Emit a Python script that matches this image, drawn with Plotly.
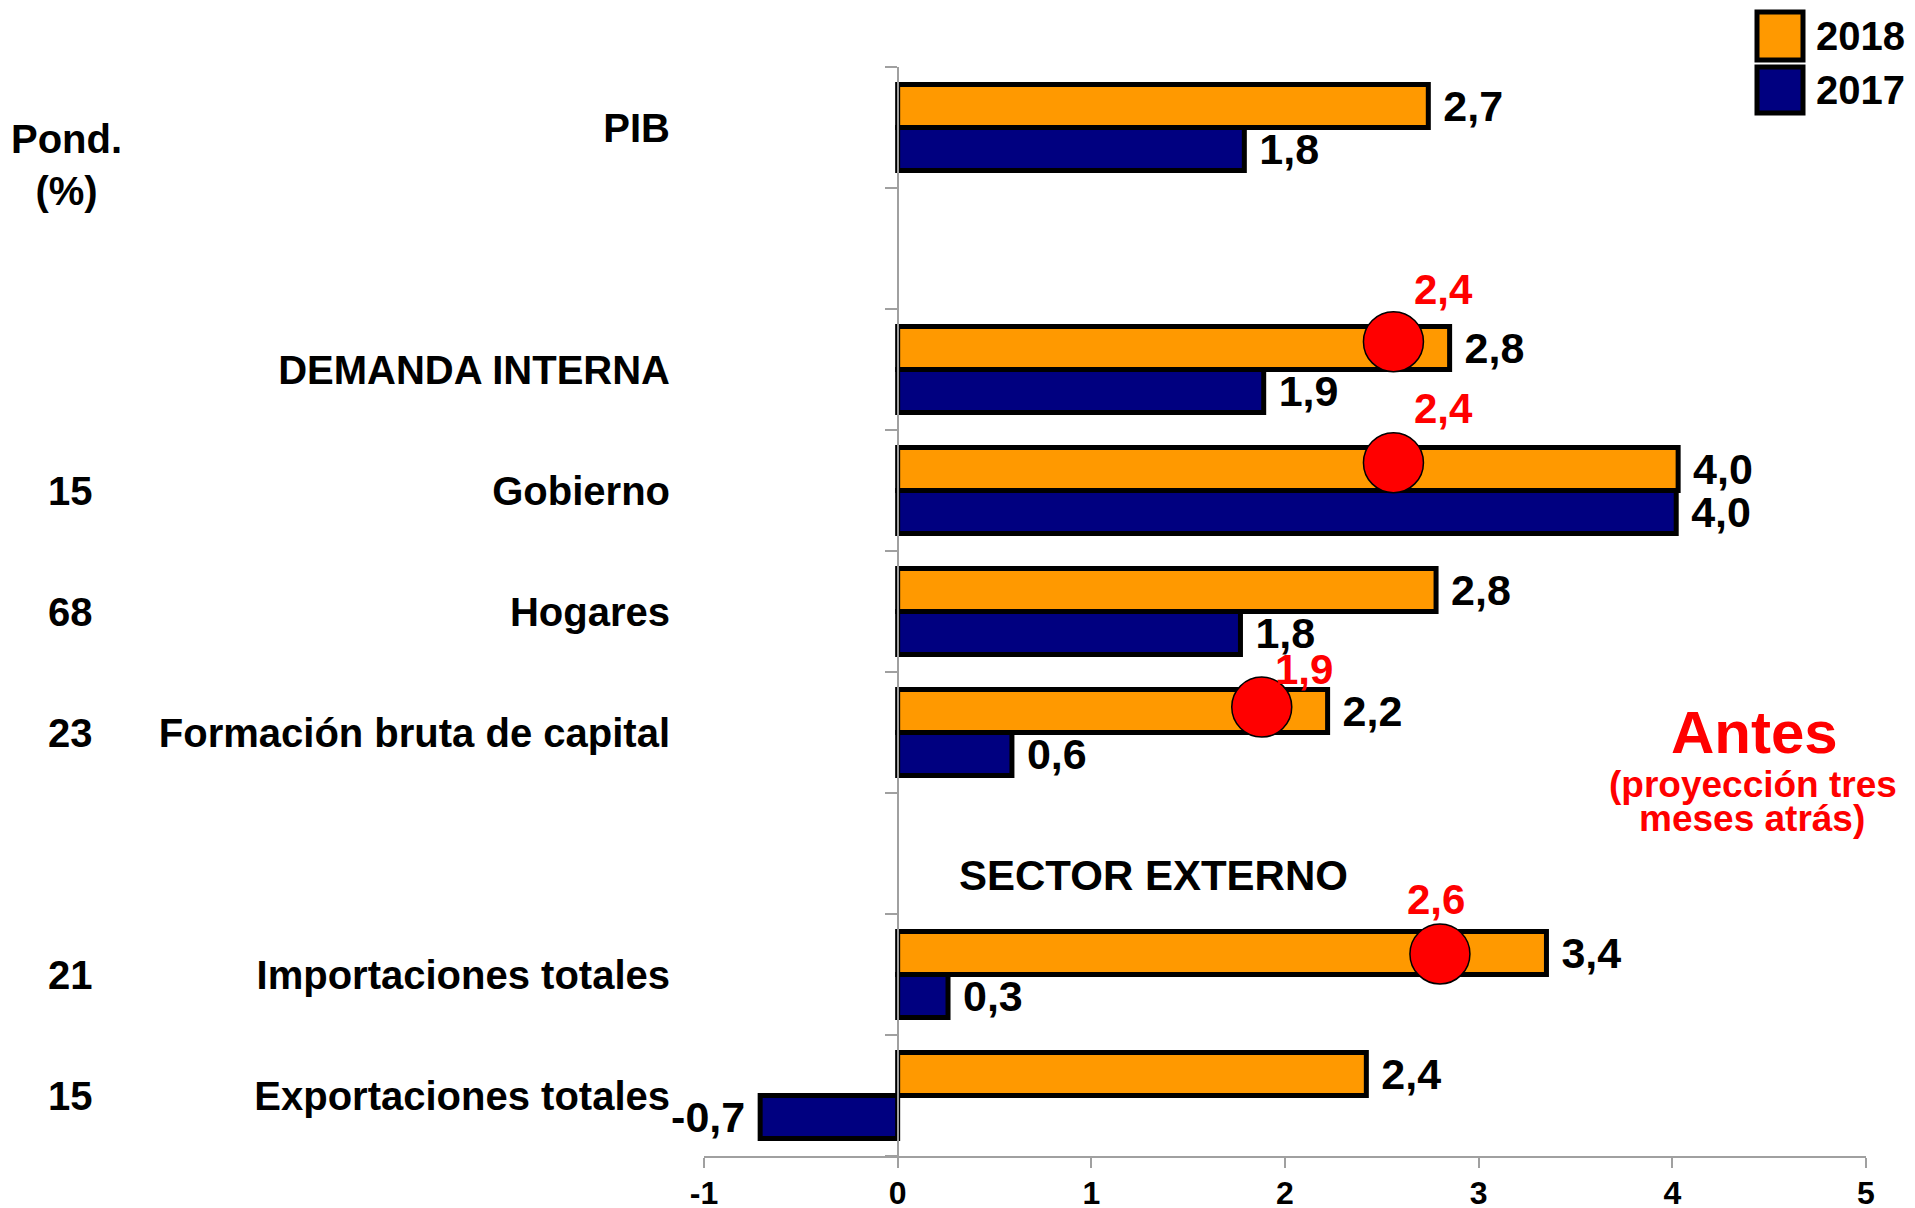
import plotly.graph_objects as go

# ---------------- data ----------------
categories = ["PIB", "DEMANDA INTERNA", "Gobierno", "Hogares",
              "Formación bruta de capital", "Importaciones totales", "Exportaciones totales"]
# bar lengths as drawn in the picture
vals_2018 = [2.74, 2.85, 4.03, 2.78, 2.22, 3.35, 2.42]
vals_2017 = [1.79, 1.89, 4.02, 1.77, 0.59, 0.26, -0.71]
# printed data labels
labels_2018 = ["2,7", "2,8", "4,0", "2,8", "2,2", "3,4", "2,4"]
labels_2017 = ["1,8", "1,9", "4,0", "1,8", "0,6", "0,3", "-0,7"]
weights = ["", "", "15", "68", "23", "21", "15"]

# previous projection ("Antes") : category, drawn position, label
antes_cats = ["DEMANDA INTERNA", "Gobierno", "Formación bruta de capital", "Importaciones totales"]
antes_pos = [2.56, 2.56, 1.88, 2.80]
antes_labels = ["2,4", "2,4", "1,9", "2,6"]

x_ticks = [-1, 0, 1, 2, 3, 4, 5]
x_ticktext = ["-1", "0", "1", "2", "3", "4", "5"]

# ---------------- layout helpers (positions / styles) ----------------
slot_of = {"PIB": 0, "DEMANDA INTERNA": 2, "Gobierno": 3, "Hogares": 4,
           "Formación bruta de capital": 5, "Importaciones totales": 7,
           "Exportaciones totales": 8}
n_slots = 9
rows = [slot_of[c] for c in categories]

W, H = 1915, 1208
L, R, T, B = 704, 1866, 67, 1156


def px_x(p):
    return (p - L) / (R - L)


def px_y(p):
    return (B - p) / (B - T)


FONT = "Liberation Sans, Arial, sans-serif"
ORANGE = "#FF9900"
NAVY = "#000080"
GREY = "#A0A0A0"
RED = "#FF0000"


def pad(text):
    return (text + " ") if text.startswith("-") else (" " + text)


def bold(size, color="black"):
    return dict(family=FONT, size=size, color=color, weight="bold")


fig = go.Figure()

for name, vals, labs, col in [("2018", vals_2018, labels_2018, ORANGE),
                              ("2017", vals_2017, labels_2017, NAVY)]:
    fig.add_trace(go.Bar(
        name=name, orientation="h", x=vals, y=rows,
        marker=dict(color=col, line=dict(color="black", width=5)),
        text=[pad(t) for t in labs], textposition="outside",
        textfont=bold(43),
        constraintext="none", cliponaxis=False, showlegend=False,
        hoverinfo="x+y",
    ))

# red circles (previous projection)
circle_dy = [-0.23, -0.23, -0.21, -0.17]
circle_y = [slot_of[c] + d for c, d in zip(antes_cats, circle_dy)]
fig.add_trace(go.Scatter(
    x=antes_pos, y=circle_y,
    mode="markers",
    marker=dict(size=60, color=RED, line=dict(color="black", width=1.5)),
    showlegend=False, cliponaxis=False,
))

# invisible helper trace for the y-axis drawn at x = 0
fig.add_trace(go.Scatter(x=[0], y=[0], yaxis="y2", mode="markers",
                         marker=dict(opacity=0), showlegend=False, hoverinfo="skip"))


def ann(**kw):
    base = dict(showarrow=False, xanchor="center", yanchor="middle")
    base.update(kw)
    return base


annotations = []
# red labels above circles
label_shift = [(50, 52), (50, 54), (42, 38), (-4, 54)]
for p, yy, t, (dx, dy) in zip(antes_pos, circle_y, antes_labels, label_shift):
    annotations.append(ann(x=p, y=yy, xref="x", yref="y", text=t,
                           xshift=dx, yshift=dy, font=bold(42, RED)))

# weights column
annotations.append(ann(x=px_x(66), y=px_y(165), xref="paper", yref="paper",
                       text="Pond.<br>(%)", align="center", font=bold(40)))
for c, w in zip(categories, weights):
    if w:
        annotations.append(ann(x=px_x(70), y=slot_of[c], xref="paper", yref="y", text=w,
                               font=bold(40)))

# SECTOR EXTERNO header
annotations.append(ann(x=1.32, y=6.18, xref="x", yref="y", text="SECTOR EXTERNO",
                       font=bold(42)))

# Antes note
annotations.append(ann(x=px_x(1754), y=px_y(732), xref="paper", yref="paper", text="Antes",
                       font=bold(60, RED)))
annotations.append(ann(x=px_x(1753), y=px_y(784), xref="paper", yref="paper",
                       text="(proyección tres", font=bold(37, RED)))
annotations.append(ann(x=px_x(1752), y=px_y(819), xref="paper", yref="paper",
                       text="meses atrás)", font=bold(37, RED)))

# custom legend
shapes = []
legend_items = [("2018", ORANGE, 10, 62), ("2017", NAVY, 65, 115)]
for name, col, y0, y1 in legend_items:
    shapes.append(dict(type="rect", xref="paper", yref="paper",
                       x0=px_x(1757), x1=px_x(1803), y0=px_y(y1 - 2), y1=px_y(y0 + 2),
                       fillcolor=col, line=dict(color="black", width=5)))
    annotations.append(ann(x=px_x(1814), y=px_y((y0 + y1) / 2), xref="paper", yref="paper",
                           text=name, xanchor="left", font=bold(40)))

fig.update_layout(
    width=W, height=H,
    margin=dict(l=L, r=W - R, t=T, b=H - B, pad=0, autoexpand=False),
    paper_bgcolor="white", plot_bgcolor="white",
    font=dict(family=FONT, color="black"),
    barmode="group", bargap=0.29, bargroupgap=0,
    annotations=annotations, shapes=shapes,
    xaxis=dict(range=[-1, 5], tickvals=x_ticks, ticktext=x_ticktext, automargin=False,
               showgrid=False, zeroline=False, showline=True, linecolor=GREY, linewidth=2,
               ticks="outside", ticklen=10, tickwidth=2, tickcolor=GREY,
               ticklabelstandoff=-2,
               tickfont=bold(32)),
    yaxis=dict(range=[n_slots - 0.5, -0.5], tickvals=rows, ticktext=categories,
               automargin=False,
               showgrid=False, zeroline=False, showline=False, ticks="",
               ticklabelstandoff=33,
               tickfont=bold(40)),
    yaxis2=dict(overlaying="y", anchor="free", position=px_x(L + (R - L) / 6), side="left",
                range=[n_slots - 0.5, -0.5], automargin=False,
                tickvals=[i - 0.5 for i in range(n_slots + 1)],
                showticklabels=False, showgrid=False, zeroline=False,
                showline=True, linecolor=GREY, linewidth=2,
                ticks="outside", ticklen=12, tickwidth=2, tickcolor=GREY),
)

fig.write_html(
    "out.html",
    config={"displayModeBar": False},
    post_script="document.body.style.margin='0';document.body.style.overflow='hidden';",
)
